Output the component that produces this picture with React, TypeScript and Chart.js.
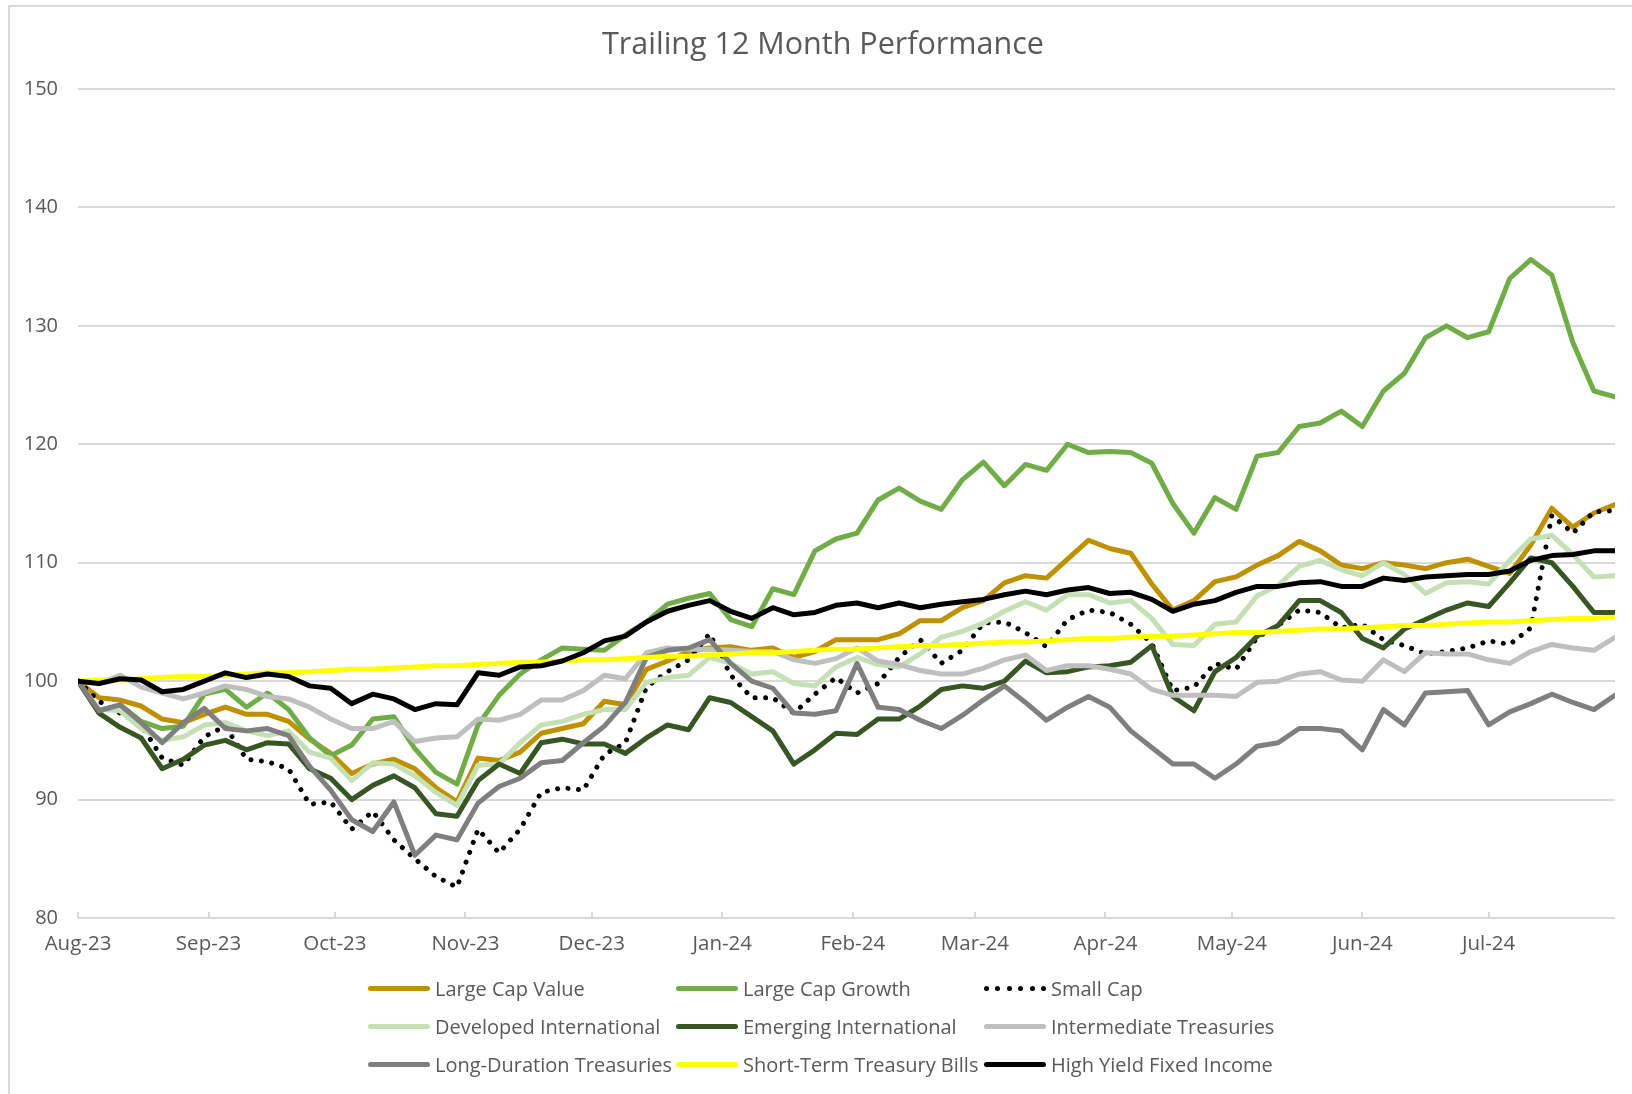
import React, { useEffect, useRef } from "react";
import { Chart, registerables } from "chart.js";

Chart.register(...registerables);

const FONT = "'Open Sans', 'DejaVu Sans', sans-serif";
const TEXT = "#595959";
const TITLE = "Trailing 12 Month Performance";

// Days since Aug 1, 2023
const dayOffsets = [
  0, 5, 10, 15, 20, 25, 30, 35, 40, 45, 50, 55, 60, 65, 70, 75, 80, 85, 90, 95, 100, 105,
  110, 115, 120, 125, 130, 135, 140, 145, 150, 155, 160, 165, 170, 175, 180, 185, 190, 195,
  200, 205, 210, 215, 220, 225, 230, 235, 240, 245, 250, 255, 260, 265, 270, 275, 280, 285,
  290, 295, 300, 305, 310, 315, 320, 325, 330, 335, 340, 345, 350, 355, 360, 365,
];
const monthStartDays = [0, 31, 61, 92, 122, 153, 184, 213, 244, 274, 305, 335];
const monthLabels = ["Aug-23", "Sep-23", "Oct-23", "Nov-23", "Dec-23", "Jan-24", "Feb-24", "Mar-24", "Apr-24", "May-24", "Jun-24", "Jul-24"];
const yMin = 80;
const yMax = 150;
const yStep = 10;

const largeCapValue = [
  100.0, 98.6, 98.4, 97.9, 96.8, 96.5, 97.2, 97.8, 97.2, 97.2, 96.6, 95.1,
  93.9, 92.2, 93.0, 93.4, 92.6, 91.0, 89.8, 93.5, 93.3, 94.0,
  95.6, 96.0, 96.4, 98.3, 98.0, 101.0, 101.7, 102.5, 102.8, 102.9, 102.6,
  102.8, 102.0, 102.5, 103.5, 103.5, 103.5, 104.0, 105.1, 105.1, 106.2,
  106.8, 108.3, 108.9, 108.7, 110.3, 111.9, 111.2, 110.8, 108.2, 106.0,
  106.8, 108.4, 108.8, 109.8, 110.6, 111.8, 111.0, 109.8, 109.5, 110.0, 109.8,
  109.5, 110.0, 110.3, 109.7, 109.1, 111.5, 114.6, 113.0, 114.2, 114.9,
];
const largeCapGrowth = [
  100.0, 97.5, 98.0, 96.6, 96.0, 96.2, 98.9, 99.3, 97.8, 99.0, 97.6, 95.2,
  93.7, 94.6, 96.8, 97.0, 94.3, 92.3, 91.3, 96.3, 98.8, 100.6,
  101.8, 102.8, 102.7, 102.6, 103.9, 105.0, 106.5, 107.0, 107.4, 105.2, 104.6,
  107.8, 107.3, 111.0, 112.0, 112.5, 115.3, 116.3, 115.2, 114.5, 117.0,
  118.5, 116.5, 118.3, 117.8, 120.0, 119.3, 119.4, 119.3, 118.4, 115.0,
  112.5, 115.5, 114.5, 119.0, 119.3, 121.5, 121.8, 122.8, 121.5, 124.5, 126.0,
  129.0, 130.0, 129.0, 129.5, 134.0, 135.6, 134.3, 128.6, 124.5, 124.0,
];
const smallCap = [
  100.0, 98.3, 97.3, 96.3, 93.5, 92.9, 95.3, 96.2, 93.4, 93.2, 92.6, 89.6,
  89.8, 87.5, 89.0, 86.6, 85.0, 83.5, 82.6, 87.5, 85.5, 87.5,
  90.6, 91.0, 90.8, 93.8, 94.8, 99.5, 100.8, 101.8, 104.0, 100.5, 98.6,
  98.6, 97.3, 98.9, 100.3, 99.0, 99.8, 102.0, 103.5, 101.5, 102.6,
  104.9, 105.0, 104.1, 102.9, 105.2, 106.0, 105.8, 104.8, 103.2, 99.2,
  99.5, 101.5, 101.0, 103.7, 104.7, 106.0, 105.8, 104.5, 104.8, 103.5, 103.0,
  102.3, 102.5, 102.8, 103.4, 103.1, 104.5, 114.0, 112.5, 114.3, 114.4,
];
const developedIntl = [
  100.0, 97.6, 97.5, 96.0, 95.0, 95.3, 96.3, 96.5, 95.8, 95.4, 95.8, 94.0,
  93.5, 91.6, 93.1, 93.0, 92.0, 90.6, 89.5, 92.9, 93.0, 94.8,
  96.3, 96.6, 97.2, 97.6, 97.6, 99.9, 100.3, 100.5, 102.0, 101.5, 100.6,
  100.8, 99.8, 99.6, 101.2, 102.0, 101.4, 101.2, 102.3, 103.7, 104.2,
  104.9, 105.9, 106.7, 106.0, 107.3, 107.3, 106.6, 106.8, 105.3, 103.1,
  103.0, 104.8, 105.0, 107.2, 108.1, 109.7, 110.2, 109.4, 108.9, 110.0, 109.0,
  107.4, 108.3, 108.4, 108.2, 110.2, 112.0, 112.3, 110.7, 108.8, 108.9,
];
const emergingIntl = [
  100.0, 97.3, 96.1, 95.2, 92.6, 93.4, 94.6, 95.0, 94.2, 94.8, 94.7, 92.6,
  91.8, 90.0, 91.2, 92.0, 91.0, 88.8, 88.6, 91.6, 93.0, 92.2,
  94.8, 95.1, 94.7, 94.7, 93.9, 95.2, 96.3, 95.9, 98.6, 98.2, 97.0,
  95.8, 93.0, 94.2, 95.6, 95.5, 96.8, 96.8, 97.9, 99.3, 99.6,
  99.4, 100.0, 101.7, 100.7, 100.8, 101.2, 101.3, 101.6, 103.0, 98.7,
  97.5, 100.8, 102.0, 103.8, 104.7, 106.8, 106.8, 105.8, 103.6, 102.8, 104.4,
  105.2, 106.0, 106.6, 106.3, 108.3, 110.4, 110.0, 108.0, 105.8, 105.8,
];
const intermediateTreasuries = [
  100.0, 99.8, 100.5, 99.5, 99.0, 98.5, 99.0, 99.6, 99.3, 98.7, 98.5, 97.8,
  96.8, 96.0, 96.0, 96.6, 94.9, 95.2, 95.3, 96.8, 96.7, 97.2,
  98.4, 98.4, 99.2, 100.5, 100.2, 102.4, 102.8, 102.7, 102.7, 102.6, 102.5,
  102.5, 101.8, 101.5, 101.9, 102.8, 101.7, 101.4, 100.9, 100.6, 100.6,
  101.1, 101.8, 102.2, 100.9, 101.3, 101.3, 101.0, 100.6, 99.3, 98.8,
  98.8, 98.8, 98.7, 99.9, 100.0, 100.6, 100.8, 100.1, 100.0, 101.8, 100.8,
  102.4, 102.3, 102.3, 101.8, 101.5, 102.5, 103.1, 102.8, 102.6, 103.7,
];
const longDurationTreasuries = [
  100.0, 97.5, 98.0, 96.5, 94.8, 96.5, 97.7, 96.0, 95.8, 96.0, 95.4, 92.8,
  90.8, 88.3, 87.3, 89.8, 85.3, 87.0, 86.6, 89.7, 91.1, 91.8,
  93.1, 93.3, 94.8, 96.2, 98.2, 102.0, 102.6, 102.8, 103.5, 101.5, 100.0,
  99.4, 97.3, 97.2, 97.5, 101.5, 97.8, 97.6, 96.7, 96.0, 97.1,
  98.4, 99.6, 98.2, 96.7, 97.8, 98.7, 97.8, 95.8, 94.4, 93.0,
  93.0, 91.8, 93.0, 94.5, 94.8, 96.0, 96.0, 95.8, 94.2, 97.6, 96.3,
  99.0, 99.1, 99.2, 96.3, 97.4, 98.1, 98.9, 98.2, 97.6, 98.8,
];
const shortTermTBills = [
  100.0, 100.1, 100.1, 100.2, 100.3, 100.4, 100.4, 100.5, 100.6, 100.7, 100.7, 100.8,
  100.9, 101.0, 101.0, 101.1, 101.2, 101.3, 101.3, 101.4, 101.5, 101.6,
  101.6, 101.7, 101.8, 101.8, 101.9, 102.0, 102.1, 102.1, 102.2, 102.3, 102.4,
  102.4, 102.5, 102.6, 102.7, 102.7, 102.8, 102.9, 103.0, 103.0, 103.1,
  103.2, 103.3, 103.3, 103.4, 103.5, 103.6, 103.6, 103.7, 103.8, 103.8,
  103.9, 104.0, 104.1, 104.1, 104.2, 104.3, 104.4, 104.4, 104.5, 104.6, 104.7,
  104.7, 104.8, 104.9, 105.0, 105.0, 105.1, 105.2, 105.3, 105.3, 105.4,
];
const highYield = [
  100.0, 99.8, 100.2, 100.1, 99.1, 99.3, 100.0, 100.7, 100.3, 100.6, 100.4, 99.6,
  99.4, 98.1, 98.9, 98.5, 97.6, 98.1, 98.0, 100.7, 100.5, 101.2,
  101.3, 101.7, 102.4, 103.4, 103.8, 105.0, 105.9, 106.4, 106.8, 105.9, 105.3,
  106.2, 105.6, 105.8, 106.4, 106.6, 106.2, 106.6, 106.2, 106.5, 106.7,
  106.9, 107.3, 107.6, 107.3, 107.7, 107.9, 107.4, 107.5, 106.9, 105.9,
  106.5, 106.8, 107.5, 108.0, 108.0, 108.3, 108.4, 108.0, 108.0, 108.7, 108.5,
  108.8, 108.9, 109.0, 109.0, 109.3, 110.2, 110.6, 110.7, 111.0, 111.0,
];

const seriesNames = [
  "Large Cap Value", "Large Cap Growth", "Small Cap",
  "Developed International", "Emerging International", "Intermediate Treasuries",
  "Long-Duration Treasuries", "Short-Term Treasury Bills", "High Yield Fixed Income",
];
const seriesColors = ["#BF9000", "#70AD47", "#000000", "#C5E0B4", "#375623", "#BFBFBF", "#7F7F7F", "#FFFF00", "#000000"];
const seriesValues = [
  largeCapValue, largeCapGrowth, smallCap, developedIntl, emergingIntl,
  intermediateTreasuries, longDurationTreasuries, shortTermTBills, highYield,
];
const dottedSeries = "Small Cap";

export default function App() {
  const ref = useRef<HTMLCanvasElement>(null);

  useEffect(() => {
    const canvas = ref.current;
    if (!canvas) return;
    const tickMarks = {
      id: "tickMarks",
      beforeDatasetsDraw(chart: any) {
        const { ctx, chartArea } = chart;
        const x = chart.scales.x;
        ctx.save();
        ctx.strokeStyle = "#D9D9D9";
        ctx.lineWidth = 2;
        monthStartDays.forEach((d) => {
          const px = Math.round(x.getPixelForValue(d));
          ctx.beginPath();
          ctx.moveTo(px, chartArea.bottom);
          ctx.lineTo(px, chartArea.bottom - 6);
          ctx.stroke();
        });
        ctx.restore();
      },
    };
    const chart = new Chart(canvas, {
      type: "line",
      data: {
        datasets: seriesNames.map((name, i) => {
          const dotted = name === dottedSeries;
          return {
            label: name,
            data: dayOffsets.map((d, j) => ({ x: d, y: seriesValues[i][j] })),
            borderColor: seriesColors[i],
            backgroundColor: seriesColors[i],
            borderWidth: 5,
            borderDash: dotted ? [0.01, 10.5] : [],
            borderCapStyle: "round",
            borderJoinStyle: "round",
            pointRadius: 0,
            tension: 0,
            fill: false,
            order: seriesNames.length - i,
          } as any;
        }),
      },
      options: {
        animation: false,
        responsive: false,
        devicePixelRatio: 1,
        events: [],
        layout: { padding: { left: 0, right: 17, top: 89, bottom: 0 } },
        plugins: {
          legend: { display: false },
          tooltip: { enabled: false },
          title: { display: false },
        },
        scales: {
          x: {
            type: "linear",
            min: 0,
            max: 365,
            grid: { display: false, drawTicks: false },
            border: { display: false },
            ticks: {
              autoSkip: false,
              maxRotation: 0,
              minRotation: 0,
              color: TEXT,
              padding: 14,
              font: { family: FONT, size: 20.5 },
              callback: (_v: any, i: number) => monthLabels[i],
            },
            afterBuildTicks: (s: any) => {
              s.ticks = monthStartDays.map((v) => ({ value: v }));
            },
            afterFit: (s: any) => {
              s.height = 176;
            },
          },
          y: {
            min: yMin,
            max: yMax,
            ticks: {
              stepSize: yStep,
              color: TEXT,
              padding: 20,
              font: { family: FONT, size: 20 },
            },
            grid: { color: "#D9D9D9", lineWidth: 2, drawTicks: false },
            border: { display: false },
            afterFit: (s: any) => {
              s.width = 78;
            },
          },
        },
      } as any,
      plugins: [tickMarks],
    });
    return () => chart.destroy();
  }, []);

  return (
    <div style={{ position: "fixed", left: 0, top: 0, width: 1632, height: 1094, overflow: "hidden", background: "#ffffff" }}>
      <div style={{ position: "absolute", left: 8, top: 5, width: 1700, height: 1200, border: "2px solid #D9D9D9", boxSizing: "border-box" }} />
      <canvas ref={ref} width={1632} height={1094} style={{ position: "absolute", left: 0, top: 0, width: 1632, height: 1094, display: "block" }} />
      <div
        style={{
          position: "absolute",
          left: 0,
          top: 24,
          width: 1646,
          height: 36,
          lineHeight: "36px",
          textAlign: "center",
          fontFamily: FONT,
          fontSize: 30.5,
          color: TEXT,
          whiteSpace: "nowrap",
        }}
      >
        {TITLE}
      </div>
      <div
        style={{
          position: "absolute",
          left: 368,
          top: 969,
          display: "grid",
          gridTemplateColumns: "308px 308px 308px",
          gridAutoRows: "38px",
          fontFamily: FONT,
          fontSize: 20,
          color: TEXT,
          whiteSpace: "nowrap",
        }}
      >
        {seriesNames.map((name, i) => (
          <div key={name} style={{ display: "flex", alignItems: "center", height: 38 }}>
            {name === dottedSeries ? (
              <div style={{ width: 62, height: 5, marginRight: 5, display: "flex", justifyContent: "space-between", alignItems: "center" }}>
                {[0, 1, 2, 3, 4, 5].map((k) => (
                  <div key={k} style={{ width: 5, height: 5, borderRadius: "50%", background: seriesColors[i] }} />
                ))}
              </div>
            ) : (
              <div style={{ width: 62, height: 5, marginRight: 5, borderRadius: 3, background: seriesColors[i] }} />
            )}
            <span>{name}</span>
          </div>
        ))}
      </div>
    </div>
  );
}
